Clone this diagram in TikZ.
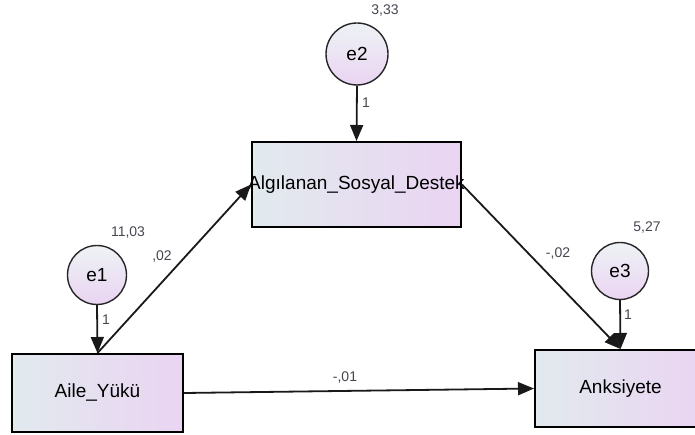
\documentclass[tikz,border=0pt]{standalone}
\usepackage{fontspec}
\setmainfont{Liberation Sans}
\usetikzlibrary{arrows.meta}
\definecolor{fillL}{RGB}{226,234,238}
\definecolor{fillR}{RGB}{234,212,242}
\definecolor{numcol}{RGB}{70,70,80}
\tikzset{
  obs/.style={draw=black, line width=2pt, rectangle, inner sep=0pt,
    left color=fillL, right color=fillR},
  err/.style={draw=black!85, line width=1.4pt, circle, inner sep=0pt,
    shading=axis, shading angle=135, top color=fillL!60!white, bottom color=fillR},
  big/.style={font=\fontsize{19}{22}\selectfont, text=black, inner sep=0pt},
  num/.style={font=\fontsize{14}{16}\selectfont, text=numcol, inner sep=0pt},
  path/.style={draw=black!90, line width=1.8pt, -{Triangle[length=16pt,width=13pt]}},
}
\begin{document}
\begin{tikzpicture}[x=1pt,y=-1pt]
\useasboundingbox (0,0) rectangle (695,435);
% boxes
\node[obs, minimum width=209pt, minimum height=85pt] (alg) at (356.5,184.5) {};
\node[obs, minimum width=171pt, minimum height=78pt] (aile) at (97.5,393) {};
\node[obs, minimum width=171pt, minimum height=77pt] (anks) at (620.5,388.5) {};
\node[big] (algt) at (alg.center) {Algılanan\_Sosyal\_Destek};
\node[big] (ailet) at (aile.center) {Aile\_Yükü};
\node[big] (ankst) at (anks.center) {Anksiyete};
% error circles
\node[err, minimum size=62pt] (e2) at (357,54) {};
\node[err, minimum size=59pt] (e1) at (97,275) {};
\node[err, minimum size=57pt] (e3) at (620,271) {};
\node[big] (e2t) at (e2.center) {e2};
\node[big] (e1t) at (e1.center) {e1};
\node[big] (e3t) at (e3.center) {e3};
% paths
\draw[path] (e2.south) -- (alg.north);
\draw[path] (e1.south) -- (aile.north);
\draw[path] (e3.south) -- (anks.north);
\draw[path] (aile.north) -- (alg.west);
\draw[path] (alg.east) -- (anks.north);
\draw[path] (aile.east) -- (anks.west);
% labels
\node[num] (v2) at (385,11) {3,33};
\node[num] (w2) at (366,103) {1};
\node[num] (v1) at (128,233) {11,03};
\node[num] (b1) at (162,257) {,02};
\node[num] (w1) at (106,320) {1};
\node[num] (b2) at (558,254) {-,02};
\node[num] (v3) at (647,228) {5,27};
\node[num] (w3) at (628,315) {1};
\node[num] (b3) at (345,378) {-,01};
\end{tikzpicture}
\end{document}
